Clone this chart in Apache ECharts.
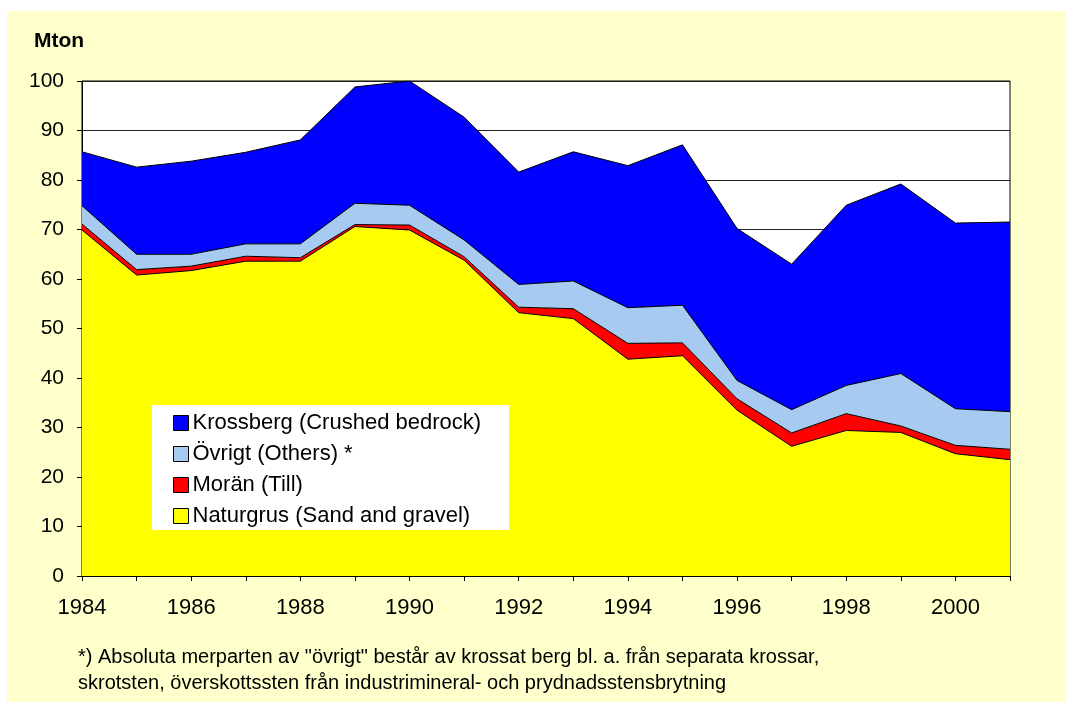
<!DOCTYPE html>
<html>
<head>
<meta charset="utf-8">
<script src="https://cdn.jsdelivr.net/npm/echarts@6/dist/echarts.min.js"></script>
<style>
  html, body { margin: 0; padding: 0; background: #fff; }
  #chart { width: 1066px; height: 702px; }
</style>
</head>
<body>
<div id="chart"></div>
<script>
// år och Mton per materialslag
var years = ['1984','1985','1986','1987','1988','1989','1990','1991','1992','1993','1994','1995','1996','1997','1998','1999','2000','2001'];
var naturgrus = [69.9, 60.8, 61.7, 63.6, 63.6, 70.6, 69.9, 63.8, 53.2, 52.0, 43.8, 44.5, 33.5, 26.2, 29.4, 29.0, 24.7, 23.5];
var moran     = [1.2, 1.1, 0.9, 1.0, 0.7, 0.4, 1.0, 0.7, 1.1, 2.0, 3.2, 2.6, 2.3, 2.7, 3.4, 1.3, 1.7, 2.1];
var ovrigt    = [3.7, 3.1, 2.4, 2.5, 2.8, 4.3, 4.0, 3.4, 4.6, 5.6, 7.2, 7.6, 3.7, 4.7, 5.7, 10.6, 7.4, 7.6];
var krossberg = [10.9, 17.6, 18.8, 18.5, 21.0, 23.5, 25.1, 24.8, 22.7, 26.1, 28.7, 32.4, 30.7, 29.4, 36.4, 38.3, 37.5, 38.3];
var yTicks = [0, 10, 20, 30, 40, 50, 60, 70, 80, 90, 100];

var names = ['Naturgrus (Sand and gravel)', 'Morän (Till)', 'Övrigt (Others) *', 'Krossberg (Crushed bedrock)'];
var colors = ['#FFFF00', '#FF0000', '#A6CAF0', '#0000FF'];
var values = [naturgrus, moran, ovrigt, krossberg];

var myChart = echarts.init(document.getElementById('chart'));

var series = values.map(function (d, i) {
  return {
    name: names[i],
    type: 'line',
    stack: 'tot',
    data: d,
    showSymbol: false,
    symbol: 'none',
    animation: false,
    lineStyle: { color: '#000', width: 1 },
    itemStyle: { color: colors[i] },
    areaStyle: { color: colors[i], opacity: 1 }
  };
});

myChart.setOption({
  backgroundColor: '#fff',
  textStyle: { fontFamily: 'Liberation Sans, Arial, sans-serif' },
  graphic: [
    { type: 'rect', z: -10, shape: { x: 7, y: 11, width: 1059, height: 691 }, style: { fill: '#FFFFCC' } },
    {
      type: 'text', left: 78, top: 644,
      style: {
        text: '*) Absoluta merparten av "övrigt" består av krossat berg bl. a. från separata krossar,\nskrotsten, överskottssten från industrimineral- och prydnadsstensbrytning',
        font: '20px Liberation Sans', fill: '#000', lineHeight: 26
      }
    }
  ],
  title: {
    text: 'Mton', left: 34, top: 31, padding: 0,
    textStyle: { fontSize: 21, fontWeight: 'bold', color: '#000', fontFamily: 'Liberation Sans' }
  },
  grid: {
    left: 82, right: 56, top: 81, bottom: 126,
    show: true, backgroundColor: '#fff', borderColor: '#000', borderWidth: 1
  },
  legend: {
    data: names.slice().reverse(),
    orient: 'vertical',
    left: 152, top: 405,
    padding: [7, 28, 3, 21],
    backgroundColor: '#fff',
    icon: 'rect',
    itemWidth: 15, itemHeight: 15, itemGap: 9,
    itemStyle: { borderColor: '#000', borderWidth: 1 },
    textStyle: { fontSize: 22, color: '#000', lineHeight: 22, padding: [0, 0, 0, -1] }
  },
  xAxis: {
    type: 'category',
    data: years,
    boundaryGap: false,
    axisLine: { lineStyle: { color: '#000' } },
    axisTick: { show: true, interval: 0, length: 5, inside: false, lineStyle: { color: '#000' } },
    axisLabel: { interval: 1, color: '#000', fontSize: 22, margin: 21 },
    splitLine: { show: false }
  },
  yAxis: {
    type: 'value',
    min: yTicks[0], max: yTicks[yTicks.length - 1], interval: 10,
    axisLine: { show: true, lineStyle: { color: '#000' } },
    axisTick: { show: true, length: 5, lineStyle: { color: '#000' } },
    axisLabel: { color: '#000', fontSize: 21, margin: 18 },
    splitLine: { show: true, lineStyle: { color: '#222', width: 1 } }
  },
  series: series
});
</script>
</body>
</html>
